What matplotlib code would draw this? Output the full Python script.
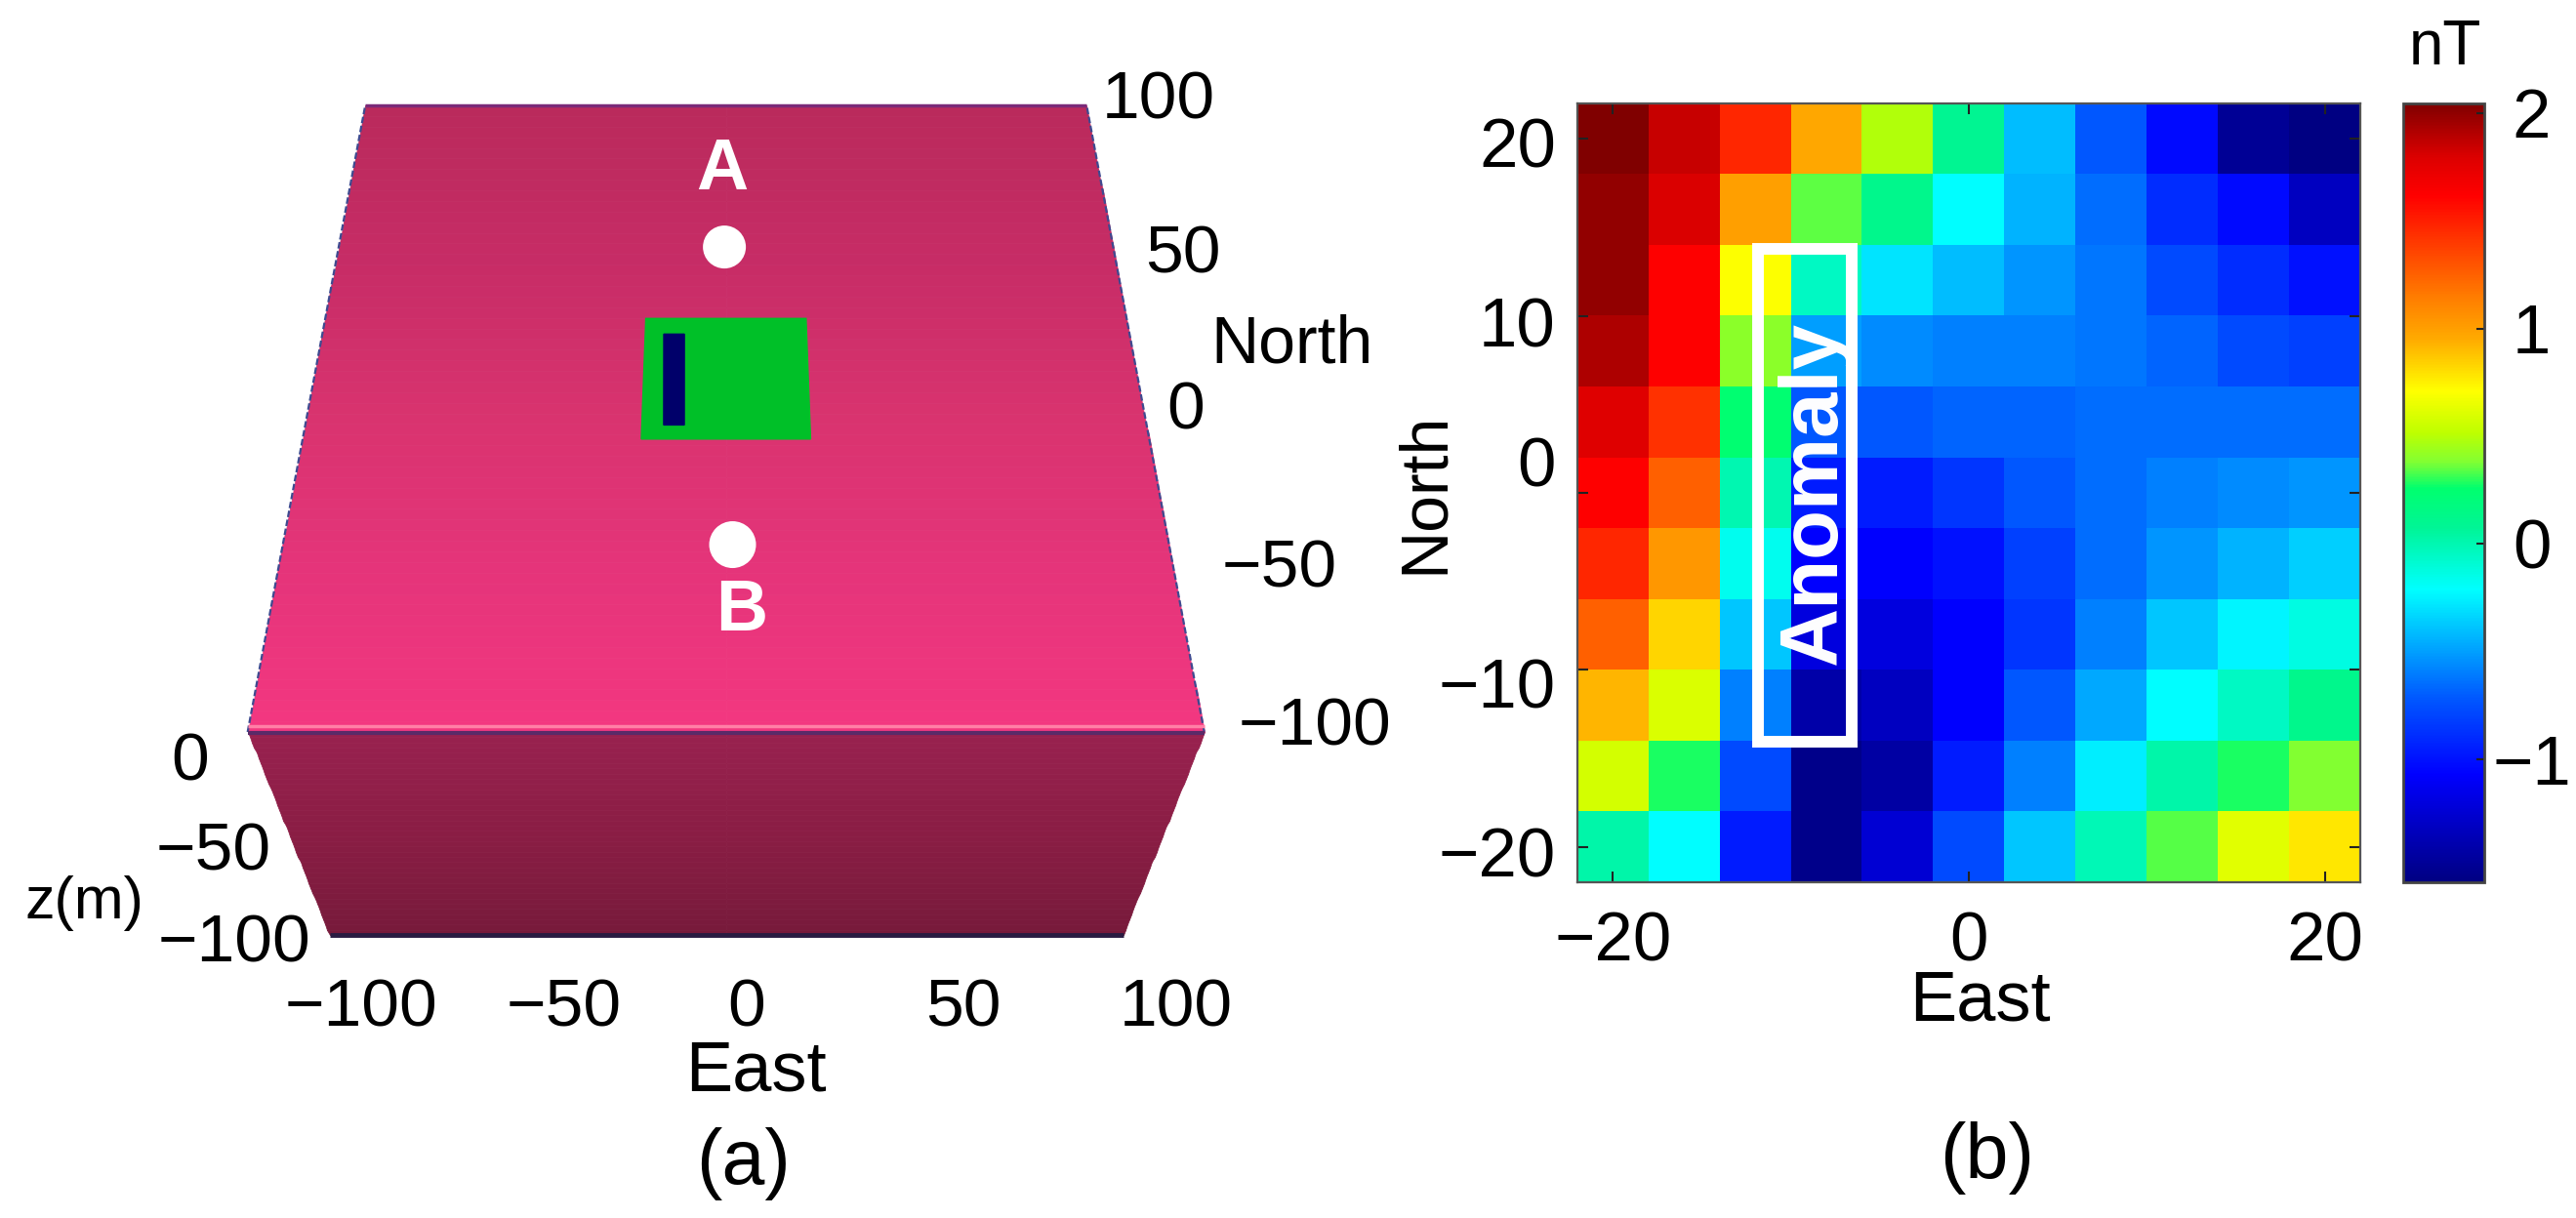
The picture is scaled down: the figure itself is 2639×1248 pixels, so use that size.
import numpy as np
import matplotlib as mpl
import matplotlib.pyplot as plt
from matplotlib.colors import LinearSegmentedColormap
from matplotlib.patches import Rectangle, Circle
from matplotlib.transforms import ScaledTranslation

mpl.rcParams['font.family'] = ['Liberation Sans', 'DejaVu Sans']

# Panel (b) anomaly grid, rows north to south, columns west to east (nT)
anomaly_row_1 = [2.04, 1.85, 1.47, 0.96, 0.49, 0.09, -0.41, -0.72, -1.03, -1.49, -1.57]
anomaly_row_2 = [1.99, 1.80, 1.00, 0.35, 0.12, -0.21, -0.44, -0.65, -0.89, -1.03, -1.32]
anomaly_row_3 = [1.99, 1.62, 0.71, -0.05, -0.29, -0.41, -0.53, -0.62, -0.77, -0.89, -1.00]
anomaly_row_4 = [1.92, 1.62, 0.40, -0.50, -0.56, -0.59, -0.59, -0.62, -0.68, -0.77, -0.81]
anomaly_row_5 = [1.78, 1.43, 0.24, -0.72, -0.72, -0.68, -0.68, -0.65, -0.65, -0.65, -0.65]
anomaly_row_6 = [1.62, 1.25, 0.00, -0.96, -0.96, -0.85, -0.72, -0.65, -0.59, -0.56, -0.53]
anomaly_row_7 = [1.47, 1.03, -0.17, -1.07, -1.07, -1.00, -0.81, -0.65, -0.53, -0.44, -0.35]
anomaly_row_8 = [1.25, 0.83, -0.38, -1.20, -1.20, -1.07, -0.85, -0.59, -0.38, -0.24, -0.13]
anomaly_row_9 = [0.92, 0.60, -0.59, -1.41, -1.32, -1.07, -0.72, -0.47, -0.21, -0.05, 0.12]
anomaly_row_10 = [0.58, 0.28, -0.77, -1.53, -1.43, -0.96, -0.59, -0.26, 0.02, 0.28, 0.38]
anomaly_row_11 = [0.02, -0.21, -0.96, -1.53, -1.24, -0.77, -0.38, -0.01, 0.34, 0.62, 0.78]
anomaly_rows = [anomaly_row_1, anomaly_row_2, anomaly_row_3, anomaly_row_4, anomaly_row_5, anomaly_row_6,
                anomaly_row_7, anomaly_row_8, anomaly_row_9, anomaly_row_10, anomaly_row_11]
map_ticks_x = [-20, 0, 20]
map_ticks_y = [-20, -10, 0, 10, 20]
cbar_ticks = [-1, 0, 1, 2]
cbar_range = [-1.57, 2.045]
anomaly_east = [-11.85, -6.6]
anomaly_north = [-14.05, 13.8]

# Panel (a) model, metres
box_east = [-100, 100]
box_north = [-100, 100]
box_z = [0, -100]
block_east = [-20, 20]
block_north = [-6.5, 32]
body_east_north_end = [-15.4, -10.3]
body_east_south_end = [-14.8, -9.9]
body_north = [-2, 27]
point_a = [-0.4, 54.8]
point_b = [1.5, -40.2]

W, H = 2639, 1248
fig = plt.figure(figsize=(W / 100, H / 100), dpi=100)

# Whole-figure axes in pixels, used for panel (a) and free text
canvas = fig.add_axes([0, 0, 1, 1])
canvas.set_xlim(0, W)
canvas.set_ylim(H, 0)
canvas.axis('off')


# Box projection: trapezoids seen from above the south side
def top_xy(east, north):
    east = np.asarray(east, dtype=float)
    north = np.asarray(north, dtype=float)
    y = 108 + (100 - north) / 200 * 642
    half = 369.5 + (y - 108) / 642 * 120.5
    return 743.7 + east / 100 * half, y


def front_xy(east, z):
    east = np.asarray(east, dtype=float)
    z = np.asarray(z, dtype=float)
    y = 750 - z / 100 * 208
    half = 490 + z / 100 * 83.5
    return 744 + east / 100 * half, y


top_cmap = LinearSegmentedColormap.from_list('top', ['#BA2A5C', '#C72C66', '#D9336F', '#E5347A', '#F33780'])
front_cmap = LinearSegmentedColormap.from_list('front', ['#98214F', '#8A1D44', '#771A3B'])

ee, nn = np.meshgrid(np.linspace(*box_east, 3), np.linspace(box_north[0], box_north[1], 60))
xx, yy = top_xy(ee, nn)
canvas.pcolormesh(xx, yy, nn[:-1, :-1], cmap=top_cmap.reversed(), shading='flat', rasterized=True,
                  antialiased=True, edgecolors='face', linewidth=0.5)

ee, zz = np.meshgrid(np.linspace(*box_east, 3), np.linspace(box_z[1], box_z[0], 40))
xx, yy = front_xy(ee, zz)
canvas.pcolormesh(xx, yy, zz[:-1, :-1], cmap=front_cmap.reversed(), shading='flat', rasterized=True,
                  antialiased=True, edgecolors='face', linewidth=0.5)

# Green block and the dark body on it
x, y = top_xy([block_east[0], block_east[1], block_east[1], block_east[0]],
              [block_north[0], block_north[0], block_north[1], block_north[1]])
canvas.fill(x, y, color='#00C028', lw=1)
x, y = top_xy([body_east_south_end[0], body_east_south_end[1], body_east_north_end[1], body_east_north_end[0]],
              [body_north[0], body_north[0], body_north[1], body_north[1]])
canvas.fill(x, y, color='#00006A', lw=1)

for pt, r in ((point_a, 22), (point_b, 24)):
    px, py = top_xy(pt[0], pt[1])
    canvas.add_patch(Circle((float(px), float(py)), r, color='white', lw=0))

# Box edges
ex, ey = top_xy([box_east[0], box_east[1]], [box_north[1], box_north[1]])
canvas.plot(ex, ey, color='#7A2A78', lw=2.5, solid_capstyle='butt')
for e in box_east:
    ex, ey = top_xy([e, e], box_north)
    canvas.plot(ex, ey, color='#3E4A90', lw=1.6, dashes=(3, 1.2))
ex, ey = top_xy(box_east, [box_north[0], box_north[0]])
canvas.plot(ex, ey - 6, color='#FF7FA6', lw=2.5, solid_capstyle='butt')
canvas.plot(ex, ey + 1, color='#5A2A68', lw=3, solid_capstyle='butt')
ex, ey = front_xy(box_east, [box_z[1], box_z[1]])
canvas.plot(ex, ey, color='#2A1C42', lw=3.5, solid_capstyle='butt')

canvas.text(740, 175, 'A', color='white', fontsize=53, fontweight='bold', ha='center', va='center')
canvas.text(760, 626, 'B', color='white', fontsize=53, fontweight='bold', ha='center', va='center')

# Panel (a) tick labels
north_labels = ['100', '50', '0', '\u221250', '\u2212100']
north_label_x = [1187, 1212, 1215, 1311, 1347]
north_label_y = [103, 262, 422, 583, 745]
east_labels = ['\u2212100', '\u221250', '0', '50', '100']
east_label_x = [370, 578, 765, 987, 1205]
z_labels = ['0', '\u221250', '\u2212100']
z_label_x = [195, 219, 240]
z_label_y = [782, 873, 968]

for s, x, y in zip(north_labels, north_label_x, north_label_y):
    canvas.text(x, y, s, fontsize=50, ha='center', va='center')
for s, x in zip(east_labels, east_label_x):
    canvas.text(x, 1034, s, fontsize=50, ha='center', va='center')
for s, x, y in zip(z_labels, z_label_x, z_label_y):
    canvas.text(x, y, s, fontsize=50, ha='center', va='center')
canvas.text(1323, 353, 'North', fontsize=49, ha='center', va='center')
canvas.text(774, 1099, 'East', fontsize=52, ha='center', va='center')
canvas.text(86, 925, 'z(m)', fontsize=44, ha='center', va='center')
canvas.text(761, 1192, '(a)', fontsize=57, ha='center', va='center')
canvas.text(2036, 1186, '(b)', fontsize=57, ha='center', va='center')
canvas.text(2505, 49, 'nT', fontsize=46, ha='center', va='center')
canvas.text(1460, 505, 'North', fontsize=49, rotation=90, ha='center', va='center')
canvas.text(2028, 1027, 'East', fontsize=52, ha='center', va='center')


def px_axes(left, top, right, bottom):
    return fig.add_axes([left / W, 1 - bottom / H, (right - left) / W, (bottom - top) / H])


# Colours, it is greener than plain jet
map_stops = [(0.0, (0, 0, 130)), (0.138, (0, 0, 255)), (0.238, (0, 90, 255)), (0.305, (0, 170, 255)),
             (0.376, (0, 255, 255)), (0.455, (0, 245, 150)), (0.506, (0, 255, 110)), (0.54, (130, 255, 50)),
             (0.577, (190, 255, 0)), (0.631, (255, 255, 0)), (0.698, (255, 170, 0)), (0.748, (255, 128, 0)),
             (0.882, (255, 0, 0)), (0.932, (220, 0, 0)), (1.0, (128, 0, 0))]
map_cmap = LinearSegmentedColormap.from_list('map', [(f, tuple(c / 255 for c in rgb)) for f, rgb in map_stops], N=512)

# Panel (b) map
ax = px_axes(1616, 106, 2418, 904)
im = ax.imshow(np.array(anomaly_rows), cmap=map_cmap, vmin=cbar_range[0], vmax=cbar_range[1],
               extent=[-22, 22, -22, 22], interpolation='nearest', aspect='auto')
ax.set_xticks(map_ticks_x)
ax.set_yticks(map_ticks_y)
ax.set_xticklabels([str(t).replace('-', '\u2212') for t in map_ticks_x])
ax.set_yticklabels([str(t).replace('-', '\u2212') for t in map_ticks_y])
ax.tick_params(direction='in', length=8, width=1.5, top=True, right=True, labelsize=51, color='#222222')
ax.tick_params(axis='x', pad=21)
ax.tick_params(axis='y', pad=16)
# Hand-placed labels in the source sit a little off their ticks
for lab, dy in zip(ax.get_yticklabels(), [-5, -14, 32, -6, -4]):
    lab.set_transform(lab.get_transform() + ScaledTranslation(0, dy / 100, fig.dpi_scale_trans))
for s in ax.spines.values():
    s.set_color('#555555')
    s.set_linewidth(1.6)

ax.add_patch(Rectangle((anomaly_east[0], anomaly_north[0]), anomaly_east[1] - anomaly_east[0],
                       anomaly_north[1] - anomaly_north[0], fill=False, edgecolor='white', linewidth=8.6))
ax.text(-8.7, 0.0, 'Anomaly', color='white', fontsize=60, fontweight='bold', rotation=90, ha='center', va='center')

# Colorbar
cax = px_axes(2462, 106, 2545, 904)
cb = fig.colorbar(im, cax=cax)
cb.set_ticks(cbar_ticks)
cb.set_ticklabels([str(t).replace('-', '\u2212') for t in cbar_ticks])
cb.ax.tick_params(direction='in', length=6, width=1.5, labelsize=51, pad=35, color='#222222')
for lab in cb.ax.get_yticklabels():
    lab.set_ha('center')
cb.outline.set_edgecolor('#444444')
cb.outline.set_linewidth(2)

fig.savefig('out.png', dpi=100)
